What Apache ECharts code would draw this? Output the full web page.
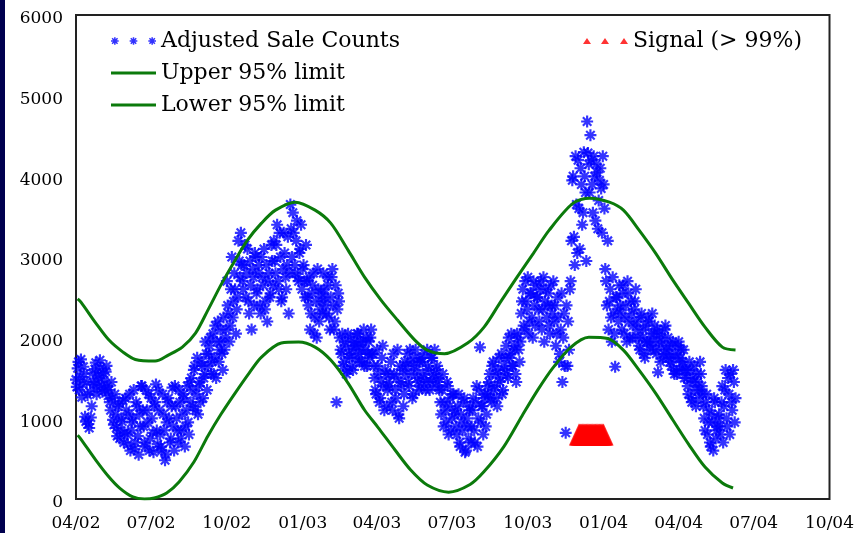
<!DOCTYPE html>
<html>
<head>
<meta charset="utf-8">
<script src="https://cdn.jsdelivr.net/npm/echarts@6/dist/echarts.min.js"></script>
<style>
html,body{margin:0;padding:0;background:#fff;}
#chart{width:857px;height:533px;}
</style>
</head>
<body>
<div id="chart"></div>
<script>
// ---- data ----
// day 0 = 2002-04-01; x axis measured in days
const tickDays = [0, 91, 183, 275, 365, 456, 548, 640, 731, 822, 914];
const tickLabels = ['04/02','07/02','10/02','01/03','04/03','07/03','10/03','01/04','04/04','07/04','10/04'];

// adjusted sale counts on even days (0, 2, 4, ...)
const saleCountsEven = [
1480,1620,1350,1730,1420,1550,960,1290,880,1010,
1560,1420,1690,1380,1500,1620,1330,1470,1580,1400,
1350,1100,1250,920,1050,780,1180,850,960,700,
1250,800,1050,600,950,1350,700,1150,550,900,
1400,900,650,1100,1300,750,1000,580,1200,850,
1350,800,600,1050,480,950,1250,700,1150,900,
1400,1000,700,1200,850,1300,650,1100,950,1450,
1500,1150,1650,1300,1050,1450,1700,1250,1550,1800,
1650,1900,1550,2050,1750,1500,2200,1850,1950,1600,
1850,2100,2400,1950,2600,2250,2800,2050,2500,2950,
3300,2700,2900,2500,3100,2300,2650,2850,2400,3000,
2600,2900,2300,2750,3100,2450,2200,2800,2550,2950,
3200,2800,3400,2600,3000,2500,3300,2750,2900,2300,
3650,3000,3300,2800,3450,2700,3100,2600,2900,2500,
2700,2400,2100,2550,2800,2250,2000,2600,2350,2450,
2800,2500,2300,2650,2100,2750,2400,2200,1200,2550,
2000,1800,1650,1950,1550,2050,1750,1850,1600,1900,
1900,2050,1700,1850,1950,1650,2000,1800,1750,2100,
1800,1500,1300,1650,1200,1450,1900,1100,1550,1350,
1400,1700,1100,1550,1250,1850,1000,1450,1600,1300,
1550,1800,1400,1700,1250,1650,1850,1500,1350,1750,
1700,1500,1350,1850,1600,1450,1750,1550,1400,1650,
1500,1200,1350,900,1100,1450,800,1250,1000,1300,
1100,800,1300,650,950,1200,580,1000,750,1150,
900,1250,700,1400,1000,1880,1150,800,1300,1050,
1300,1550,1200,1700,1400,1250,1600,1450,1800,1350,
1600,1900,1500,1750,2050,1650,1850,1450,2000,1700,
2300,2600,2100,2450,2750,2200,2550,2000,2400,2650,
2500,2200,2700,2350,1950,2600,2400,2150,2650,2300,
2200,1900,2500,1700,2100,1450,2300,820,1650,1850,
2700,3950,3250,4250,3050,3600,4100,3400,4300,3800,
4680,4150,4510,3900,4250,3450,4050,3700,4100,3300,
3900,2850,2400,2100,2600,1950,2300,1640,2500,2200,
2400,2100,2650,2250,1950,2550,2000,2300,2150,2450,
2200,2000,1850,2300,2100,1750,1950,2250,1900,2050,
1950,2150,1800,1570,2050,1900,1750,2100,1850,2000,
1800,1650,1950,1550,1750,1900,1600,1850,1700,1500,
1600,1400,1700,1250,1500,1650,1150,1450,1350,1550,
1300,1000,1200,800,1100,650,950,1250,750,900,
1050,800,1400,1150,1600,900,1300,1550,1100,1450,
1250
];
// adjusted sale counts on odd days (1, 3, 5, ...)
const saleCountsOdd = [
1390,1700,1510,1260,1640,1020,1450,930,1330,1150,
1450,1610,1300,1530,1720,1410,1560,1350,1650,1280,
1200,1450,980,1300,880,1150,750,1000,1220,820,
1100,680,1300,850,1000,620,1200,780,1050,1400,
1100,700,1350,950,600,1250,820,1150,1420,680,
1100,650,1300,850,550,1200,1000,750,1380,600,
1150,850,1350,750,1050,1250,900,1400,800,1200,
1350,1600,1100,1750,1400,1200,1650,1500,1950,1350,
1800,2000,1700,1550,2150,1950,1700,2100,1800,2250,
2000,2700,2300,2150,3000,2450,2600,2350,3200,2750,
2900,2600,3150,2800,2450,2950,2100,2750,3050,2550,
2800,2400,3000,2650,2350,2900,2700,2500,3150,2650,
2950,3150,2700,3300,2450,2850,3050,2600,3250,2800,
3350,3550,2900,3200,2750,3050,3400,2850,2700,3150,
2500,2750,2300,2650,2050,2450,2850,2200,2550,2300,
2600,2400,2750,2250,2500,2850,2100,2650,2350,2450,
1850,2050,1700,1900,1600,1800,2000,1650,1950,1750,
2050,1800,1950,1700,2100,1850,1650,1950,2000,1800,
1650,1350,1850,1550,1250,1750,1400,1600,1150,1450,
1550,1200,1800,1350,1500,1050,1650,1400,1150,1700,
1650,1450,1850,1550,1300,1750,1600,1450,1700,1400,
1550,1800,1450,1650,1350,1750,1500,1850,1600,1450,
1350,1050,1550,1200,950,1400,1150,850,1300,1050,
900,1150,700,1050,850,1250,600,900,1100,700,
1100,850,1200,650,1350,950,1150,1250,900,1400,
1450,1250,1650,1350,1550,1150,1750,1500,1300,1650,
1750,1550,2000,1800,1650,1900,1550,2050,1850,1950,
2450,2150,2700,2350,2050,2550,2250,2700,2150,2500,
2350,2600,2100,2750,2450,2250,2550,2050,2400,2700,
2400,2050,2250,1800,2550,2000,1650,2400,2200,2600,
3200,4000,2900,3650,4200,3100,3900,3550,4000,2950,
4290,3800,4200,3550,4000,4150,3350,3950,3850,4250,
3600,2700,3200,2450,2250,2750,2050,2500,2350,2650,
2300,2550,2050,2400,2700,2200,2450,2000,2350,2600,
2100,1900,2250,2000,1800,2150,1950,2200,1850,2300,
2050,1850,2100,1950,1700,2000,1800,2150,1900,1750,
1700,1900,1600,1800,1550,1950,1750,1650,1850,1600,
1500,1300,1600,1200,1450,1350,1550,1250,1700,1400,
1150,850,1300,950,700,1050,600,1200,850,1000,
900,1200,700,1350,1000,1500,800,1200,1600,950
];

const upperDays = [2,6,24,40,57,72,96,112,129,145,160,177,193,208,225,242,266,290,309,330,350,370,390,411,426,447,475,495,514,535,555,574,603,623,647,664,683,703,724,743,763,784,800];
const upperVals = [2480,2441,2181,1970,1821,1730,1710,1784,1883,2057,2342,2676,2961,3209,3420,3581,3680,3581,3420,3085,2751,2466,2218,1970,1846,1800,1933,2131,2428,2751,3048,3333,3667,3729,3680,3581,3333,3048,2713,2428,2131,1883,1846];

const lowerDays = [2,5,24,40,53,69,83,95,110,125,143,160,176,193,210,225,249,270,290,309,330,350,366,387,406,426,452,478,495,519,541,560,578,600,622,645,664,683,703,724,743,763,784,797];
const lowerVals = [790,756,483,273,136,25,0,12,74,211,458,781,1053,1313,1561,1759,1933,1945,1883,1722,1437,1103,892,607,359,173,85,180,340,650,1030,1350,1620,1880,2005,1990,1846,1598,1313,979,680,396,198,136];

const signalDays = [610,611,612,613,614,615,616,617,618,619,620,621,622,623,624,625,626,627,628,629,630,631,632,633,634,635,636,637,638,639,640];
const signalVals = [800,800,800,800,800,800,800,800,800,800,800,800,800,800,800,800,800,800,800,800,800,800,800,800,800,800,800,800,800,800,800];

// ---- helpers (style only) ----
function ast(cx, cy, r, t) {
  let p = '';
  [0, 45, 90, 135].forEach(function (deg) {
    const a = deg * Math.PI / 180;
    const dx = Math.cos(a), dy = Math.sin(a);
    const nx = -dy, ny = dx;
    const pts = [
      [cx + r*dx + t*nx, cy + r*dy + t*ny],
      [cx + r*dx - t*nx, cy + r*dy - t*ny],
      [cx - r*dx - t*nx, cy - r*dy - t*ny],
      [cx - r*dx + t*nx, cy - r*dy + t*ny]
    ];
    p += 'M' + pts.map(function (q) { return q[0].toFixed(2) + ',' + q[1].toFixed(2); }).join('L') + 'Z';
  });
  return p;
}
const astSymbol = 'path://' + ast(5, 5, 5, 0.9);
const astLegend = 'path://' + ast(3.5, 3.5, 3.5, 0.7) + ast(20.5, 3.5, 3.5, 0.7) + ast(37.5, 3.5, 3.5, 0.7);
const lineLegend = 'path://M0,0L45,0L45,3L0,3Z';
const triLegend = 'path://M0,6L4,0L8,6ZM18,6L22,0L26,6ZM37,6L41,0L45,6Z';

const saleData = [];
saleCountsEven.forEach(function (v, i) { saleData.push([i * 2, v]); });
saleCountsOdd.forEach(function (v, i) { saleData.push([i * 2 + 1, v]); });
const upperData = upperDays.map(function (d, i) { return [d, upperVals[i]]; });
const lowerData = lowerDays.map(function (d, i) { return [d, lowerVals[i]]; });
const signalData = signalDays.map(function (d, i) { return [d, signalVals[i]]; });

const FONT = 'DejaVu Serif';
const GREEN = '#0b7a0b';

const chart = echarts.init(document.getElementById('chart'), null, { renderer: 'canvas' });
chart.setOption({
  animation: false,
  backgroundColor: '#ffffff',
  grid: { left: 76, right: 22, top: 15, bottom: 34, show: true, borderColor: '#222', borderWidth: 2, backgroundColor: 'transparent' },
  graphic: [
    { type: 'rect', left: 0, top: 0, shape: { x: 0, y: 0, width: 5, height: 533 }, style: { fill: '#00004f' }, z: 100 }
  ],
  legend: [
    {
      orient: 'vertical', left: 106, top: 25, itemWidth: 45, itemHeight: 8, itemGap: 10,
      textStyle: { fontFamily: FONT, fontSize: 22, color: '#000' },
      data: [
        { name: 'Adjusted Sale Counts', icon: astLegend },
        { name: 'Upper 95% limit', icon: lineLegend },
        { name: 'Lower 95% limit', icon: lineLegend }
      ]
    },
    {
      orient: 'vertical', left: 578, top: 25, itemWidth: 45, itemHeight: 6,
      textStyle: { fontFamily: FONT, fontSize: 22, color: '#000' },
      data: [ { name: 'Signal (> 99%)', icon: triLegend } ]
    }
  ],
  xAxis: {
    type: 'value', min: 0, max: 914,
    axisLine: { show: false },
    axisTick: { show: false },
    splitLine: { show: false },
    axisLabel: {
      customValues: tickDays,
      fontFamily: FONT, fontSize: 17, color: '#000', margin: 16,
      formatter: function (v) { const i = tickDays.indexOf(v); return i >= 0 ? tickLabels[i] : ''; }
    }
  },
  yAxis: {
    type: 'value', min: 0, max: 6000, interval: 1000,
    axisLine: { show: false },
    axisTick: { show: false },
    splitLine: { show: false },
    axisLabel: { fontFamily: FONT, fontSize: 17, color: '#000', margin: 13,
      verticalAlign: 'top', lineHeight: 8,
      formatter: function (v) { return String(v); } }
  },
  series: [
    {
      name: 'Adjusted Sale Counts', type: 'scatter', data: saleData,
      symbol: astSymbol, symbolSize: 12,
      itemStyle: { color: '#0000ff' }, z: 3
    },
    {
      name: 'Upper 95% limit', type: 'line', data: upperData, smooth: 0.3, showSymbol: false,
      lineStyle: { color: GREEN, width: 3 }, itemStyle: { color: GREEN }, z: 4
    },
    {
      name: 'Lower 95% limit', type: 'line', data: lowerData, smooth: 0.3, showSymbol: false,
      lineStyle: { color: GREEN, width: 3 }, itemStyle: { color: GREEN }, z: 4
    },
    {
      name: 'Signal (> 99%)', type: 'scatter', data: signalData,
      symbol: 'triangle', symbolSize: [20, 22],
      itemStyle: { color: '#ff0000' }, z: 5
    }
  ]
});
</script>
</body>
</html>
